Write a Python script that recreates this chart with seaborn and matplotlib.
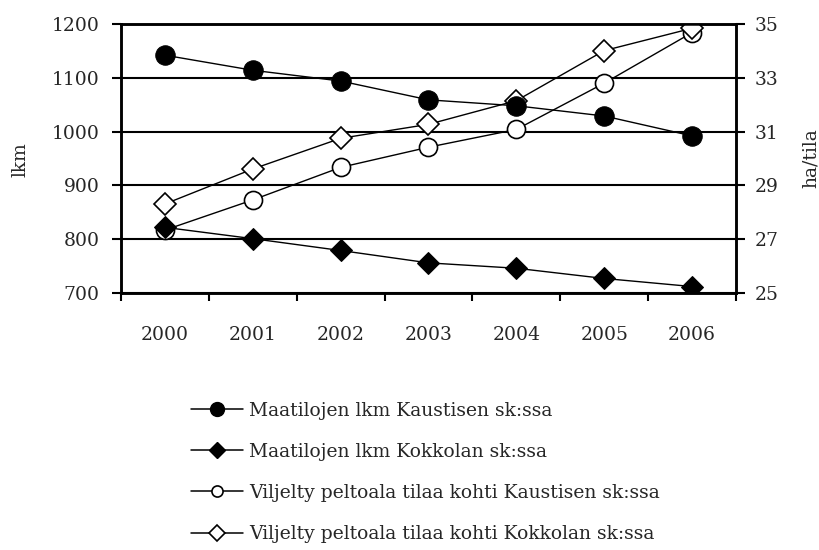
import matplotlib
matplotlib.use("Agg")
import matplotlib.pyplot as plt
import seaborn as sns
import pandas as pd
from matplotlib.lines import Line2D

# data
years = ["2000", "2001", "2002", "2003", "2004", "2005", "2006"]
farms_kaustinen = [1142, 1114, 1094, 1059, 1048, 1029, 992]
farms_kokkola = [822, 801, 779, 756, 746, 727, 712]
area_kaustinen = [27.34, 28.46, 29.67, 30.42, 31.08, 32.8, 34.68]
area_kokkola = [28.31, 29.61, 30.75, 31.27, 32.15, 34.01, 34.84]

labels = [
    "Maatilojen lkm Kaustisen sk:ssa",
    "Maatilojen lkm Kokkolan sk:ssa",
    "Viljelty peltoala tilaa kohti Kaustisen sk:ssa",
    "Viljelty peltoala tilaa kohti Kokkolan sk:ssa",
]

sns.set_style("white")
plt.rcParams["font.family"] = ["DejaVu Serif", "Liberation Serif"]
FS = 13.5

df = pd.DataFrame({
    "year": years,
    "kaus": farms_kaustinen,
    "kok": farms_kokkola,
    "akaus": area_kaustinen,
    "akok": area_kokkola,
})

fig = plt.figure(figsize=(8.2, 5.5), dpi=100)
ax = fig.add_axes([121 / 820, 1 - 293 / 550, 615 / 820, 269 / 550])
ax2 = ax.twinx()
# farm counts are drawn over the area series
ax.set_zorder(ax2.get_zorder() + 1)
ax.patch.set_visible(False)

# right axis: field area per farm
sns.lineplot(data=df, x="year", y="akaus", ax=ax2, color="black", lw=1.0,
             marker="o", markersize=13, markerfacecolor="white",
             markeredgecolor="black", markeredgewidth=1.2, sort=False, zorder=3)
sns.lineplot(data=df, x="year", y="akok", ax=ax2, color="black", lw=1.0,
             marker="D", markersize=11, markerfacecolor="white",
             markeredgecolor="black", markeredgewidth=1.2, sort=False, zorder=3)

# left axis: number of farms
sns.lineplot(data=df, x="year", y="kaus", ax=ax, color="black", lw=1.0,
             marker="o", markersize=14, markerfacecolor="black",
             markeredgecolor="black", sort=False, zorder=3)
sns.lineplot(data=df, x="year", y="kok", ax=ax, color="black", lw=1.0,
             marker="D", markersize=11, markerfacecolor="black",
             markeredgecolor="black", sort=False, zorder=3)

ax.set_ylim(700, 1200)
ax.set_yticks(range(700, 1201, 100))
ax2.set_ylim(25, 35)
ax2.set_yticks(range(25, 36, 2))
ax.set_xlim(-0.5, len(years) - 0.5)

# tick marks at category boundaries, labels at category centres
ax.set_xticks([i - 0.5 for i in range(len(years) + 1)])
ax.set_xticklabels([])
ax.set_xticks(range(len(years)), minor=True)
ax.set_xticklabels(years, minor=True)
ax.tick_params(axis="x", which="major", direction="out", length=6, width=1.5,
               bottom=True, color="black")
ax.tick_params(axis="x", which="minor", length=0, pad=24, labelsize=FS)
ax.tick_params(axis="y", direction="out", length=6.5, width=1.5, left=True,
               color="black", labelsize=FS, pad=9)
ax2.tick_params(axis="y", direction="out", length=6.5, width=1.5, right=True,
                color="black", labelsize=FS, pad=7)

# gridlines of the right axis line up with the left ticks
ax2.yaxis.grid(True, color="black", lw=1.5)
ax2.set_axisbelow(True)
for a in (ax, ax2):
    for s in a.spines.values():
        s.set_visible(True)
        s.set_color("black")
        s.set_linewidth(1.8)

ax.set_xlabel("")
ax.set_ylabel("")
ax2.set_ylabel("")
fig.text(21 / 820, 1 - 160 / 550, "lkm", rotation=90, ha="center",
         va="center", fontsize=FS)
fig.text(811 / 820, 1 - 158 / 550, "ha/tila", rotation=90, ha="center",
         va="center", fontsize=FS)

handles = [
    Line2D([], [], color="black", lw=1.1, marker="o", markersize=10,
           markerfacecolor="black"),
    Line2D([], [], color="black", lw=1.1, marker="D", markersize=8,
           markerfacecolor="black"),
    Line2D([], [], color="black", lw=1.1, marker="o", markersize=8,
           markerfacecolor="white", markeredgewidth=1.2),
    Line2D([], [], color="black", lw=1.1, marker="D", markersize=8,
           markerfacecolor="white", markeredgewidth=1.2),
]
fig.legend(handles, labels, loc="upper left",
           bbox_to_anchor=(174 / 820, 1 - 385 / 550), frameon=False,
           fontsize=FS, handlelength=2.8, labelspacing=1.23,
           handletextpad=0.3)

fig.savefig("out.png", dpi=100)
